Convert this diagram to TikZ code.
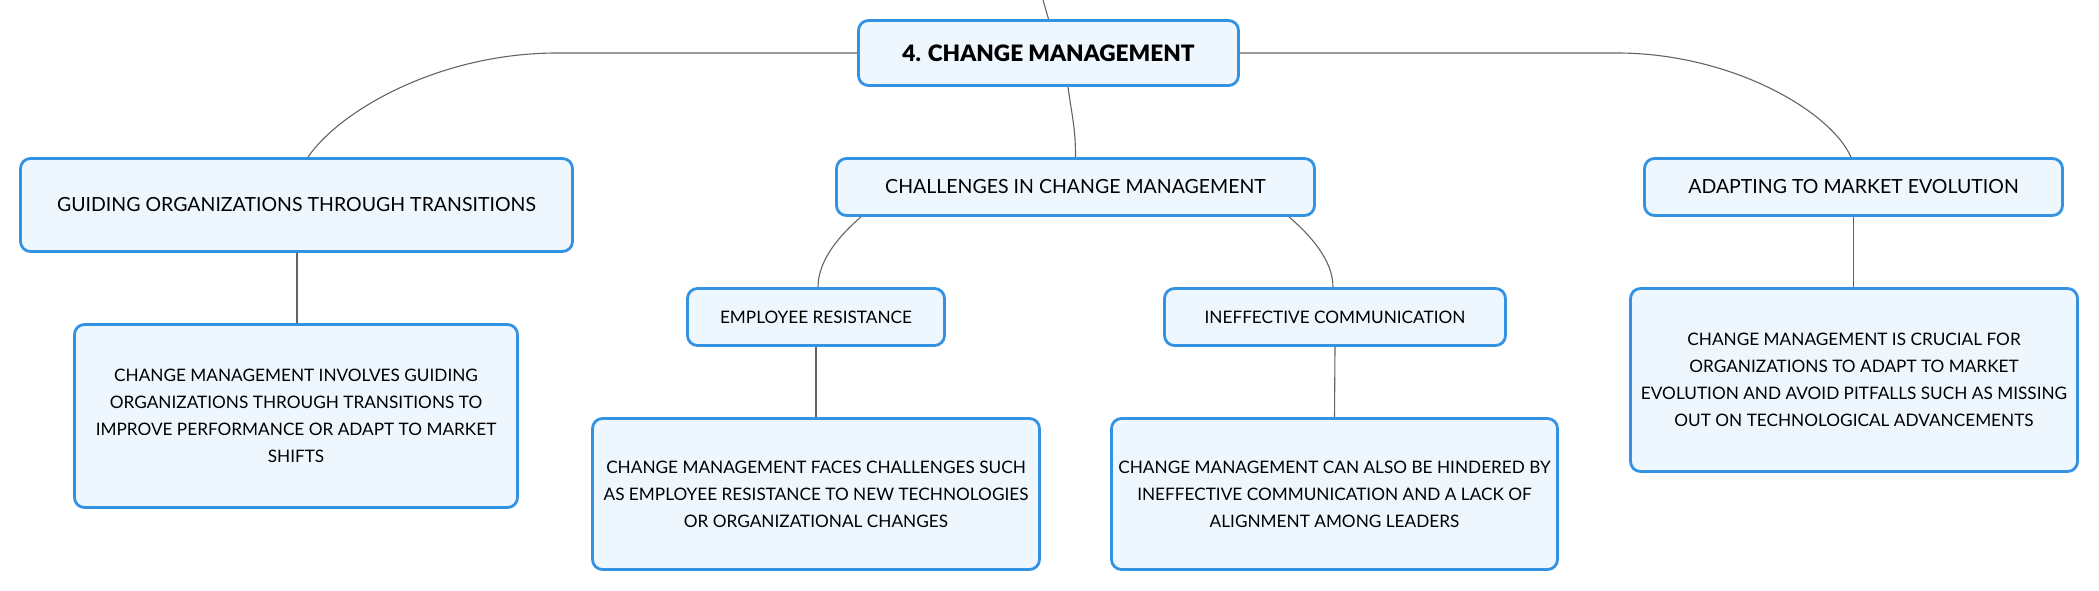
\documentclass[tikz,border=0pt]{standalone}
\usepackage{fontspec}
\setmainfont{Lato}
\newfontfamily\heavyfont{Lato Black}
\definecolor{boxblue}{RGB}{52,146,226}
\definecolor{boxfill}{RGB}{239,247,254}
\definecolor{linegray}{RGB}{100,100,100}
\begin{document}
\begin{tikzpicture}[x=1pt,y=-1pt,
  box/.style={draw=boxblue,fill=boxfill,line width=2.8pt,rounded corners=10pt,inner sep=0pt,align=center},
  lbl/.style={box,font=\fontsize{19.5}{23}\selectfont},
  desc/.style={box,font=\fontsize{17.2}{27}\selectfont},
  conn/.style={draw=linegray,line width=1.1pt}]
\useasboundingbox (0,0) rectangle (2099,591);
\node[box,font=\fontsize{22.6}{28}\heavyfont,minimum width=380,minimum height=65] (root) at (1048.5,53) {4. CHANGE MANAGEMENT};
\node[lbl,minimum width=552,minimum height=93] (guid) at (296.5,205) {GUIDING ORGANIZATIONS THROUGH TRANSITIONS};
\node[desc,minimum width=443,minimum height=183] (d1) at (296,416) {CHANGE MANAGEMENT INVOLVES GUIDING\\ORGANIZATIONS THROUGH TRANSITIONS TO\\IMPROVE PERFORMANCE OR ADAPT TO MARKET\\SHIFTS};
\node[lbl,minimum width=478,minimum height=57] (chal) at (1075.5,187) {CHALLENGES IN CHANGE MANAGEMENT};
\node[desc,minimum width=257,minimum height=57] (er) at (816,317) {EMPLOYEE RESISTANCE};
\node[desc,minimum width=341,minimum height=57] (ic) at (1335,317) {INEFFECTIVE COMMUNICATION};
\node[desc,minimum width=447,minimum height=151] (d2) at (816,494) {CHANGE MANAGEMENT FACES CHALLENGES SUCH\\AS EMPLOYEE RESISTANCE TO NEW TECHNOLOGIES\\OR ORGANIZATIONAL CHANGES};
\node[desc,minimum width=446,minimum height=151] (d3) at (1334.5,494) {CHANGE MANAGEMENT CAN ALSO BE HINDERED BY\\INEFFECTIVE COMMUNICATION AND A LACK OF\\ALIGNMENT AMONG LEADERS};
\node[lbl,minimum width=418,minimum height=57] (ada) at (1853.5,187) {ADAPTING TO MARKET EVOLUTION};
\node[desc,minimum width=447,minimum height=183] (d4) at (1854,380) {CHANGE MANAGEMENT IS CRUCIAL FOR\\ORGANIZATIONS TO ADAPT TO MARKET\\EVOLUTION AND AVOID PITFALLS SUCH AS MISSING\\OUT ON TECHNOLOGICAL ADVANCEMENTS};
\coordinate (top) at (1043,0);
\draw[conn] (top) .. controls +(3,10) .. (root.north);
\draw[conn] (root.west) -- ++(-300,0) .. controls +(-117,0) and +(32,-47) .. ([xshift=11.5pt]guid.north);
\draw[conn] (root.east) -- ++(377,0) .. controls +(113,0) and +(-21,-47) .. ([xshift=-2.5pt]ada.north);
\draw[conn] ([xshift=19.5pt]root.south) .. controls +(4,30) and +(0,-30) .. (chal.north);
\draw[conn] ([xshift=-214.5pt]chal.south) .. controls +(-21,18) and +(0,-27) .. ([xshift=2pt]er.north);
\draw[conn] ([xshift=213.5pt]chal.south) .. controls +(21,18) and +(0,-27) .. ([xshift=-2pt]ic.north);
\draw[conn] ([xshift=0.5pt]guid.south) -- ([xshift=0.5pt]guid.south |- d1.north);
\draw[conn] (er.south) -- (d2.north);
\draw[conn] (ic.south) -- (d3.north);
\draw[conn] (ada.south) -- (ada.south |- d4.north);
\end{tikzpicture}
\end{document}
